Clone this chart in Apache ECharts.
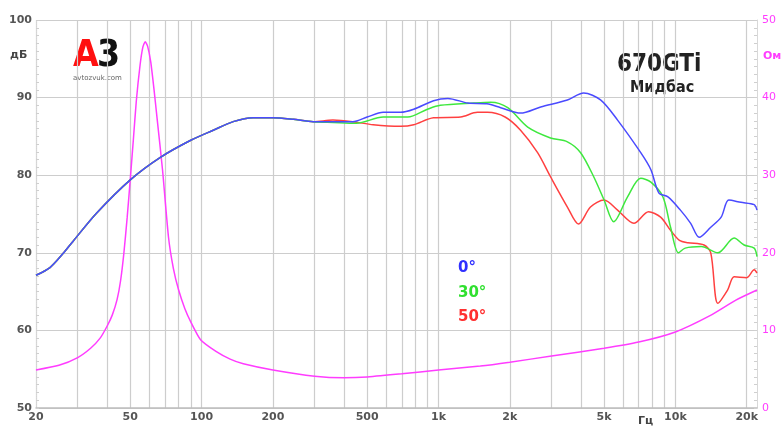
<!DOCTYPE html>
<html>
<head>
<meta charset="utf-8">
<script src="https://cdn.jsdelivr.net/npm/echarts@6/dist/echarts.min.js"></script>
<style>html,body{margin:0;padding:0;background:#fff}#c{width:784px;height:427px}</style>
</head>
<body>
<div id="c"></div>
<script>
// ---- data ----
const freqGrid = [20,30,40,50,60,70,80,90,100,200,300,400,500,600,700,800,900,1000,2000,3000,4000,5000,6000,7000,8000,9000,10000,20000];
const freqLabels = [20,50,100,200,500,1000,2000,5000,10000,20000];

const freq0 = [20,22.9,26,28.7,36,50,67,90,112,136,165,200,244,296,358,434,500,584,692,786,953,1095,1330,1600,1830,2220,2700,3500,4100,4830,5700,7140,7880,8520,9300,10500,11600,12600,14100,15600,16800,18900,21500,22100];
const db0   = [67.1,68.1,69.9,71.5,75.1,79.4,82.3,84.5,85.8,86.9,87.4,87.4,87.2,86.9,86.9,86.9,87.5,88.1,88.1,88.5,89.6,89.9,89.3,89.2,88.7,88.0,88.8,89.7,90.6,89.7,87.1,82.9,80.7,77.7,77.2,75.5,73.8,72.0,73.3,74.6,76.8,76.5,76.2,75.5];

const freq30 = [20,22.9,26,28.7,36,50,67,90,112,136,165,200,244,296,358,450,584,742,898,1018,1410,1660,1960,2380,2970,3500,3980,4520,5000,5490,6280,7140,7880,8860,9540,10300,11000,12860,15100,17700,19500,21500,22100];
const db30   = [67.1,68.1,69.9,71.5,75.1,79.4,82.3,84.5,85.8,86.9,87.4,87.4,87.2,86.9,86.8,86.7,87.5,87.5,88.5,89.0,89.3,89.4,88.7,86.2,84.8,84.3,82.9,79.8,76.8,74.0,77.2,79.6,79.1,77.2,73.3,70.0,70.6,70.8,70.0,71.9,71.0,70.6,69.5];

const freq50 = [20,22.9,26,28.7,36,50,67,90,112,136,165,200,244,296,358,434,530,692,786,953,1240,1460,1610,1910,2220,2620,2970,3500,3900,4380,5000,5700,6680,7700,8660,9540,10400,11300,13200,14100,15100,16600,17700,20000,21500,22100];
const db50   = [67.1,68.1,69.9,71.5,75.1,79.4,82.3,84.5,85.8,86.9,87.4,87.4,87.2,86.9,87.1,86.9,86.5,86.3,86.5,87.4,87.5,88.1,88.1,87.5,85.8,82.9,79.8,75.9,73.7,75.9,76.8,75.5,73.8,75.3,74.6,72.9,71.6,71.3,71.0,70.0,63.5,65.2,66.9,66.8,67.8,67.4];

const freqZ = [20,25,30,34,37.3,40,42,44,45.5,47,48.5,50,51.5,53,55,56.5,57.8,59.2,61,63,65,68.4,72.5,76,80,85,90,99,115,132,150,200,300,400,500,700,1000,1500,2000,3000,5000,7000,10000,14000,18000,22100];
const ohmZ  = [4.9,5.5,6.5,7.7,9.0,10.6,12.0,14.0,16.4,20.0,24.5,29.5,34.5,39.5,44.2,46.5,47.2,46.6,44.6,41.0,37.1,30.7,22.0,18.0,15.2,12.8,11.1,8.8,7.3,6.3,5.7,4.9,4.1,3.9,4.0,4.4,4.9,5.4,5.9,6.7,7.7,8.5,9.8,11.9,13.9,15.2];

const seriesNames = ['0°','30°','50°'];
const seriesColors = ['#4a4aff','#3ee83e','#ff4040'];
const zColor = '#ff3cff';

// ---- chart ----
const lg = Math.log10;
const pairs = (fs, vs) => fs.map((f, i) => [lg(f), vs[i]]);
const fmtF = v => { const f = Math.round(Math.pow(10, v)); return f >= 1000 ? (f / 1000) + 'k' : String(f); };

const chart = echarts.init(document.getElementById('c'), null, {renderer: 'canvas'});
const gridColor = '#cdcdcd';
const labFont = 'DejaVu Sans';

chart.setOption({
  animation: false,
  backgroundColor: '#fff',
  grid: {left: 36, right: 27, top: 20, bottom: 19, containLabel: false},
  xAxis: {
    type: 'value', min: lg(20), max: lg(22100),
    axisLine: {show: true, lineStyle: {color: '#bdbdbd', width: 1.5}},
    axisTick: {show: false, customValues: freqGrid.map(lg)},
    splitLine: {show: true, lineStyle: {color: gridColor, width: 1.2}},
    axisLabel: {customValues: freqLabels.map(lg), formatter: fmtF, color: '#555', fontFamily: labFont, fontWeight: 'bold', fontSize: 11, margin: 4, showMinLabel: true, showMaxLabel: true}
  },
  yAxis: [
    {type: 'value', min: 50, max: 100, interval: 10, position: 'left',
     axisLine: {show: true, lineStyle: {color: '#d8d8d8', type: 'dotted', width: 1}},
     axisTick: {show: true, inside: true, length: 3, lineStyle: {color: '#cfcfcf'}},
     minorTick: {show: true, splitNumber: 10, length: 3, lineStyle: {color: '#cfcfcf'}},
     splitLine: {show: true, lineStyle: {color: gridColor, width: 1.2}},
     axisLabel: {color: '#555', fontFamily: labFont, fontWeight: 'bold', fontSize: 11, margin: 4}},
    {type: 'value', min: 0, max: 50, interval: 10, position: 'right',
     axisLine: {show: true, lineStyle: {color: '#d8d8d8', width: 1}},
     axisTick: {show: true, inside: true, length: 3, lineStyle: {color: '#cfcfcf'}},
     minorTick: {show: true, splitNumber: 10, length: 3, lineStyle: {color: '#cfcfcf'}},
     splitLine: {show: false},
     axisLabel: {color: zColor, fontFamily: labFont, fontSize: 11, margin: 5}}
  ],
  series: [
    {name: 'Z', type: 'line', yAxisIndex: 1, data: pairs(freqZ, ohmZ), showSymbol: false, smooth: 0.2, lineStyle: {color: zColor, width: 1.5}, z: 2},
    {name: seriesNames[2], type: 'line', data: pairs(freq50, db50), showSymbol: false, smooth: 0.3, lineStyle: {color: seriesColors[2], width: 1.5}, z: 3},
    {name: seriesNames[1], type: 'line', data: pairs(freq30, db30), showSymbol: false, smooth: 0.3, lineStyle: {color: seriesColors[1], width: 1.5}, z: 4},
    {name: seriesNames[0], type: 'line', data: pairs(freq0, db0), showSymbol: false, smooth: 0.3, lineStyle: {color: seriesColors[0], width: 1.5}, z: 5}
  ],
  graphic: [
    {type: 'text', left: 10, top: 50, style: {text: 'дБ', font: 'bold 11px "DejaVu Sans"', fill: '#444'}},
    {type: 'text', left: 763, top: 51, style: {text: 'Ом', font: 'bold 11px "DejaVu Sans"', fill: zColor}},
    {type: 'text', left: 638, top: 416, style: {text: 'Гц', font: 'bold 11px "DejaVu Sans"', fill: '#444'}},
    {type: 'text', left: 617, top: 53, style: {text: '670GTi', font: 'bold 24px "DejaVu Sans Condensed"', fill: '#222'}},
    {type: 'text', left: 630, top: 80, style: {text: 'Мидбас', font: 'bold 16px "DejaVu Sans Condensed"', fill: '#222'}},
    {type: 'text', left: 73, top: 38, style: {text: 'A', font: 'bold 37px "DejaVu Sans Condensed"', fill: '#ff1010'}},
    {type: 'text', left: 97, top: 38, style: {text: '3', font: 'bold 37px "DejaVu Sans Condensed"', fill: '#111'}},
    {type: 'text', left: 73, top: 75, style: {text: 'avtozvuk.com', font: '7px "DejaVu Sans"', fill: '#666'}},
    {type: 'text', left: 458, top: 261, style: {text: seriesNames[0], font: 'bold 15px "DejaVu Sans"', fill: '#3030ff'}},
    {type: 'text', left: 458, top: 286, style: {text: seriesNames[1], font: 'bold 15px "DejaVu Sans"', fill: '#30e030'}},
    {type: 'text', left: 458, top: 310, style: {text: seriesNames[2], font: 'bold 15px "DejaVu Sans"', fill: '#ff3030'}}
  ]
});
</script>
</body>
</html>
